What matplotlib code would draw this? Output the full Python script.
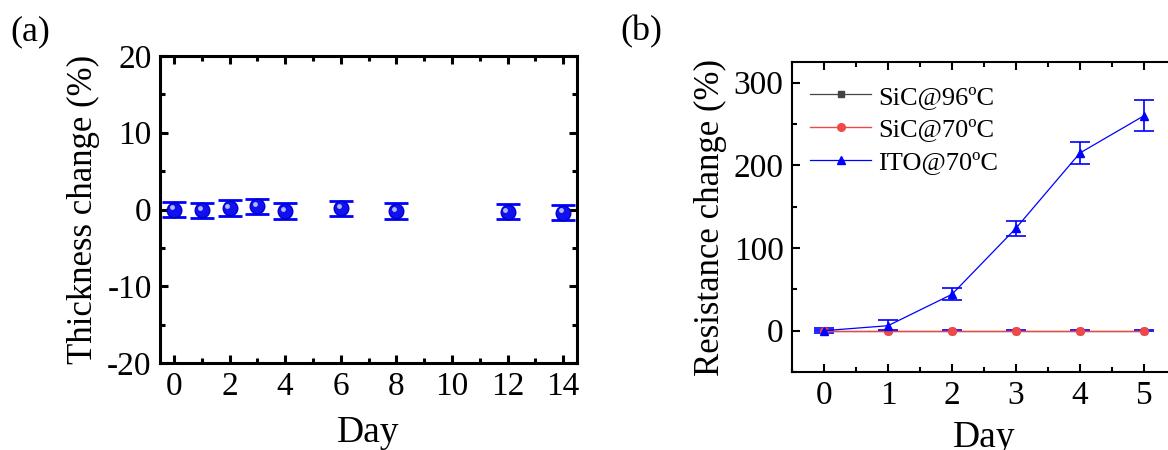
import numpy as np
import matplotlib
matplotlib.use('Agg')
import matplotlib.pyplot as plt
import matplotlib.transforms as mtransforms
from matplotlib.ticker import MultipleLocator

plt.rcParams['font.family'] = ['Liberation Serif', 'DejaVu Serif']
plt.rcParams['axes.unicode_minus'] = False

# (a) thickness change over days
days_a = [0, 1, 2, 3, 4, 6, 8, 12, 14]
thick = [0.0, -0.1, 0.2, 0.4, -0.2, 0.15, -0.2, -0.3, -0.4]
thick_err = [1.0, 1.0, 1.0, 1.0, 1.0, 1.0, 1.0, 1.0, 1.0]

# (b) resistance change over days
days_b = [0, 1, 2, 3, 4, 5]
sic96 = [0, 0, 0, 0, 0, 0]
sic96_err = [1, 1, 1, 1, 1, 1]
sic70 = [0, 0, 0, 0, 0, 0]
sic70_err = [1, 1, 1, 1, 1, 1]
ito70 = [0, 6, 44, 124, 215, 260]
ito70_err = [3, 6.5, 7.5, 9, 13, 18.5]

fig = plt.figure(figsize=(11.68, 4.5), dpi=100)

# ---- panel (a) ----
ax1 = fig.add_axes([160 / 1168, 1 - 363 / 450, 417 / 1168, 307 / 450])
ax1.errorbar(days_a, thick, yerr=thick_err, fmt='none', ecolor='#0000ff',
             elinewidth=2.0, capsize=8.5, capthick=2.0, zorder=2)
ax1.plot(days_a, thick, 'o', ms=10.5, color='#1010f0', mec='#0000c8', zorder=3)
# small highlight on each sphere
hl = ax1.transData + mtransforms.ScaledTranslation(-1.5 / 72, 1.5 / 72, fig.dpi_scale_trans)
ax1.plot(days_a, thick, 'o', ms=3.5, color='#b0b8ff', mec='none', transform=hl, zorder=4)
ax1.set_xlim(-0.5, 14.5)
ax1.set_ylim(-20, 20)
ax1.xaxis.set_major_locator(MultipleLocator(2))
ax1.xaxis.set_minor_locator(MultipleLocator(1))
ax1.yaxis.set_major_locator(MultipleLocator(10))
ax1.yaxis.set_minor_locator(MultipleLocator(5))
ax1.set_xlabel('Day', fontsize=27, labelpad=10)
ax1.set_ylabel('Thickness change (%)', fontsize=25, labelpad=5)
for s in ax1.spines.values():
    s.set_linewidth(2.2)
ax1.tick_params(which='both', direction='in', top=True, right=True, width=2.2,
                labelsize=24, pad=6)
ax1.tick_params(which='major', length=6)
ax1.tick_params(which='minor', length=3.5)
fig.text(10 / 1168, 1 - 32 / 450, '(a)', fontsize=26, va='center', ha='left')

# ---- panel (b) ----
ax2 = fig.add_axes([792 / 1168, 1 - 372 / 450, 384 / 1168, 310 / 450])
ax2.errorbar(days_b, sic96, yerr=sic96_err, fmt='none', ecolor='#2020ff',
             elinewidth=1.2, capsize=7, capthick=1.2, zorder=2)
ax2.errorbar(days_b, sic70, yerr=sic70_err, fmt='none', ecolor='#2020ff',
             elinewidth=1.2, capsize=7, capthick=1.2, zorder=2)
ax2.errorbar(days_b, ito70, yerr=ito70_err, fmt='none', ecolor='#0000ff',
             elinewidth=1.2, capsize=7, capthick=1.2, zorder=2)
ax2.plot(days_b, sic96, '-s', color='#444444', lw=0.9, ms=5, label='SiC@96ºC', zorder=3)
ax2.plot(days_b, sic70, '-o', color='#f04848', lw=1.0, ms=5.5, label='SiC@70ºC', zorder=4)
ax2.plot(days_b, ito70, '-^', color='#0000ff', lw=0.9, ms=6, label='ITO@70ºC', zorder=5)
ax2.set_xlim(-0.5, 5.5)
ax2.set_ylim(-50, 325)
ax2.xaxis.set_major_locator(MultipleLocator(1))
ax2.xaxis.set_minor_locator(MultipleLocator(0.5))
ax2.yaxis.set_major_locator(MultipleLocator(100))
ax2.yaxis.set_minor_locator(MultipleLocator(50))
ax2.set_xlabel('Day', fontsize=27, labelpad=7)
ax2.set_ylabel('Resistance change (%)', fontsize=25, labelpad=5)
for s in ax2.spines.values():
    s.set_linewidth(1.5)
ax2.tick_params(which='both', direction='in', top=True, right=True, width=1.5,
                labelsize=24, pad=6)
ax2.tick_params(which='major', length=6)
ax2.tick_params(which='minor', length=3.5)
ax2.legend(loc='upper left', frameon=False, fontsize=19, handlelength=2.3,
           handletextpad=0.25, labelspacing=0.35, borderaxespad=0.3,
           bbox_to_anchor=(0.0, 0.985))
fig.text(620 / 1168, 1 - 32 / 450, '(b)', fontsize=26, va='center', ha='left')

fig.savefig('out.png', dpi=100)
